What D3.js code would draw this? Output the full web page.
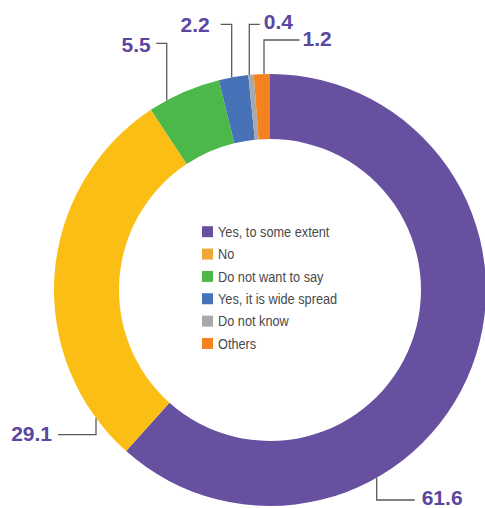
<!DOCTYPE html>
<html>
<head>
<meta charset="utf-8">
<script src="https://cdn.jsdelivr.net/npm/d3@7/dist/d3.min.js"></script>
<style>
  html, body { margin: 0; padding: 0; background: #fff; }
  svg { display: block; }
</style>
</head>
<body>
<svg id="chart" width="485" height="508"></svg>
<script>
// Survey answers, in drawing order (clockwise from 12 o'clock)
const categories = ["Yes, to some extent", "No", "Do not want to say", "Yes, it is wide spread", "Do not know", "Others"];
const values = [61.6, 29.1, 5.5, 2.2, 0.4, 1.2];
const sliceColors = ["#67509f", "#fbbe15", "#4cb84a", "#4772b8", "#a8a9ac", "#f58220"];
const legendColors = ["#67509f", "#f0a73a", "#4cb84a", "#4772b8", "#a8a9ac", "#f58220"];

// Callout layout per slice: x of the vertical leader, y of its elbow,
// which side the label sits on, and the horizontal run length
const callouts = [
  { x: 376.7, elbowY: 500, side: 1, run: 38, gap: 7, baseDy: 5 },
  { x: 96,    elbowY: 434.7, side: -1, run: 38, gap: 6, baseDy: 6 },
  { x: 166.7, elbowY: 43.3, side: -1, run: 10.5, gap: 5.5, baseDy: 9 },
  { x: 231.7, elbowY: 24.3, side: -1, run: 11, gap: 11, baseDy: 8 },
  { x: 249.3, elbowY: 24.3, side: 1, run: 10.5, gap: 4, baseDy: 5 },
  { x: 264,   elbowY: 40, side: 1, run: 35.5, gap: 3, baseDy: 6 }
];

const cx = 270, cy = 290, outerR = 216, innerR = 151;
const svg = d3.select("#chart");
const g = svg.append("g").attr("transform", `translate(${cx},${cy})`);

const pie = d3.pie().sort(null).value(d => d)(values);
const arc = d3.arc().innerRadius(innerR).outerRadius(outerR);

g.selectAll("path.slice")
  .data(pie)
  .join("path")
  .attr("class", "slice")
  .attr("d", arc)
  .attr("fill", (d, i) => sliceColors[i]);

// Leader lines: rise from the ring edge to the elbow, then run sideways to the label
const leaderG = svg.append("g");
values.forEach((v, i) => {
  const c = callouts[i];
  const dx = c.x - cx;
  const dy = Math.sqrt(outerR * outerR - dx * dx);
  const ringY = c.elbowY > cy ? cy + dy : cy - dy;
  const endX = c.x + c.side * c.run;
  leaderG.append("path")
    .attr("d", `M${c.x},${ringY}L${c.x},${c.elbowY}L${endX},${c.elbowY}`)
    .attr("fill", "none")
    .attr("stroke", "#5a5a5a")
    .attr("stroke-width", 1.3);
  leaderG.append("text")
    .attr("x", endX + c.side * c.gap)
    .attr("y", c.elbowY + c.baseDy)
    .attr("text-anchor", c.side > 0 ? "start" : "end")
    .attr("font-family", "'Liberation Sans', Arial, sans-serif")
    .attr("font-weight", "bold")
    .attr("font-size", 21)
    .attr("fill", "#5b47a0")
    .text(d3.format(".1f")(v));
});

// Legend in the donut hole
const legend = svg.append("g").attr("transform", "translate(202,231.7)");
const rowH = 22.35;
const rows = legend.selectAll("g.row")
  .data(categories)
  .join("g")
  .attr("class", "row")
  .attr("transform", (d, i) => `translate(0,${i * rowH})`);
rows.append("rect")
  .attr("x", 0).attr("y", -5.5)
  .attr("width", 11).attr("height", 11)
  .attr("fill", (d, i) => legendColors[i]);
// narrow setting of the legend type
rows.append("text")
  .attr("transform", "translate(16,5.2) scale(0.85,1)")
  .attr("font-family", "'Liberation Sans', Arial, sans-serif")
  .attr("font-size", 15)
  .attr("fill", "#4a4a4a")
  .text(d => d);
</script>
</body>
</html>
